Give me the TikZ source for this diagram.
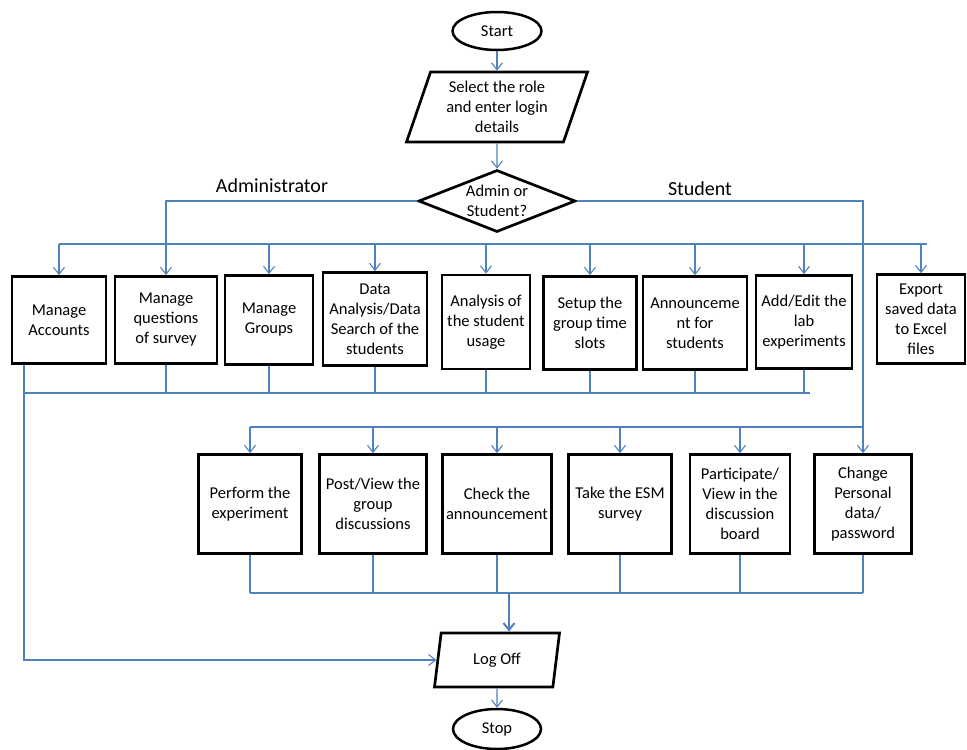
\documentclass[tikz,border=0pt]{standalone}
\usepackage{fontspec}
\setmainfont{Carlito}
\usetikzlibrary{arrows.meta,shapes.geometric}
\definecolor{linkblue}{RGB}{79,129,189}
\tikzset{
  boxfont/.style={font=\fontsize{16.5}{20}\selectfont},
  proc/.style={draw,rectangle,line width=2.7pt,align=center,inner sep=2pt,boxfont},
  term/.style={draw,ellipse,line width=2.5pt,inner sep=0pt,boxfont},
  io/.style={draw,trapezium,trapezium left angle=65,trapezium right angle=115,
    trapezium stretches body,line width=2.7pt,align=center,inner sep=0pt,boxfont},
  decide/.style={draw,diamond,shape aspect=2.5,line width=2.7pt,align=center,inner sep=0pt,boxfont},
  branch/.style={font=\fontsize{20}{24}\selectfont},
  link/.style={draw=linkblue,line width=1.1pt},
  linkarrow/.style={link,-{Straight Barb[length=7pt,width=11pt]}},
  mainlink/.style={line width=2pt}
}

\begin{document}
\begin{tikzpicture}[x=1pt,y=-1pt]
    \useasboundingbox (0,0) rectangle (967,750);
    % login part
    \node[term,minimum width=89pt,minimum height=38pt] (start) at (497,31) {Start};
    \node[io,minimum width=181pt,minimum height=70pt] (login) at (497,107) {Select the role\\and enter login\\details};
    \node[decide,minimum width=157pt,minimum height=62pt] (choice) at (497,201) {Admin or\\Student?};
    \node[branch] (admlabel) at (272,186) {Administrator};
    \node[branch] (stulabel) at (700,189) {Student};
    % administrator tasks
    \node[proc,minimum width=94pt,minimum height=87pt] (acc) at (59,320) {Manage\\Accounts};
    \node[proc,minimum width=102pt,minimum height=87pt] (ques) at (166,320) {Manage\\questions\\of survey};
    \node[proc,minimum width=88pt,minimum height=89pt] (grp) at (269,320) {Manage\\Groups};
    \node[proc,minimum width=104pt,minimum height=93pt] (data) at (375,319) {Data\\Analysis/Data\\Search of the\\students};
    \node[proc,minimum width=88pt,minimum height=94pt] (usage) at (486,322) {Analysis of\\the student\\usage};
    \node[proc,minimum width=93pt,minimum height=93pt] (slots) at (590,323) {Setup the\\group time\\slots};
    \node[proc,minimum width=104pt,minimum height=93pt] (annc) at (695,323) {Announceme\\nt for\\students};
    \node[proc,minimum width=96pt,minimum height=93pt] (lab) at (804,322) {Add/Edit the\\lab\\experiments};
    \node[proc,minimum width=88pt,minimum height=89pt] (excel) at (921,319) {Export\\saved data\\to Excel\\files};
    % student tasks
    \node[proc,minimum width=103pt,minimum height=99pt] (exp) at (250,504) {Perform the\\experiment};
    \node[proc,minimum width=107pt,minimum height=99pt] (post) at (373,504) {Post/View the\\group\\discussions};
    \node[proc,minimum width=109pt,minimum height=99pt] (chk) at (497,504) {Check the\\announcement};
    \node[proc,minimum width=103pt,minimum height=99pt] (esm) at (620,504) {Take the ESM\\survey};
    \node[proc,minimum width=100pt,minimum height=99pt] (board) at (740,504) {Participate/\\View in the\\discussion\\board};
    \node[proc,minimum width=97pt,minimum height=99pt] (pwd) at (863,504) {Change\\Personal\\data/\\password};
    % end part
    \node[io,minimum width=125pt,minimum height=54pt] (logoff) at (497,660) {Log Off};
    \node[term,minimum width=88pt,minimum height=40pt] (stop) at (497,729) {Stop};
    \coordinate (busL) at (59,244);
    \coordinate (busR) at (927,244);
    \coordinate (retL) at (24,393);
    \coordinate (retR) at (810,393);
    \coordinate (stuL) at (250,427);
    \coordinate (endL) at (250,593);
    \coordinate (drop) at (509,593);

    \draw[linkarrow] (start) -- (login);
    \draw[linkarrow] (login) -- (choice);
    \draw[linkarrow] (choice.west) -| (ques);
    \draw[link] (busL) -- (busR);
    \foreach \n in {acc,grp,data,usage,slots,annc,lab,excel}
      \draw[linkarrow] (busL -| \n) -- (\n);
    \draw[link] (retL) -- (retR);
    \foreach \n in {ques,grp,data,usage,slots,annc,lab}
      \draw[link] (\n) -- (retL -| \n);
    \draw[linkarrow] (acc.south -| retL) |- (logoff);
    \draw[link,mainlink] (choice.east) -| (stuL -| pwd);
    \draw[link] (stuL) -- (stuL -| pwd);
    \foreach \n in {exp,post,chk,esm,board,pwd}
      \draw[linkarrow] (stuL -| \n) -- (\n);
    \draw[link] (endL) -- (endL -| pwd);
    \foreach \n in {exp,post,chk,esm,board,pwd}
      \draw[link] (\n) -- (endL -| \n);
    \draw[linkarrow,mainlink] (endL -| board) -- (drop) -- (drop |- logoff.north);
    \draw[linkarrow] (logoff) -- (stop);
\end{tikzpicture}
\end{document}
